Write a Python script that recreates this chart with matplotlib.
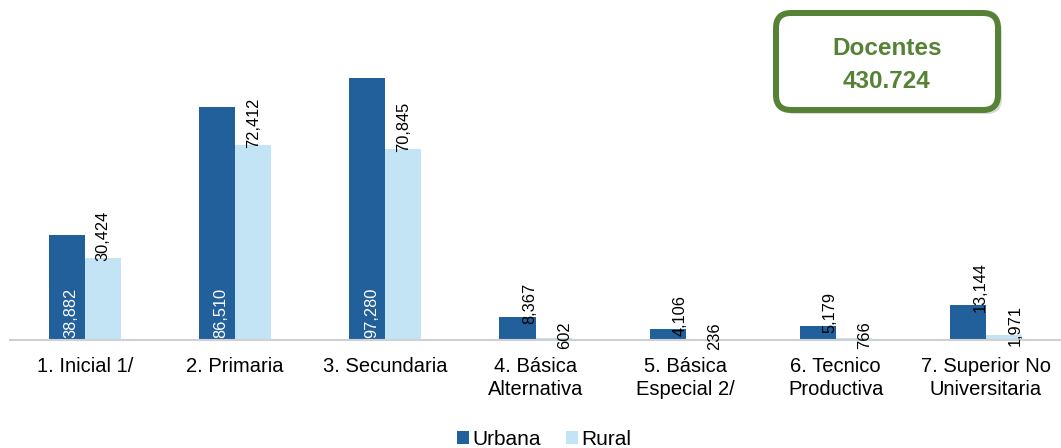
import matplotlib
matplotlib.use("Agg")
import matplotlib.pyplot as plt
import numpy as np
from matplotlib.patches import FancyBboxPatch

plt.rcParams['font.family'] = ['Liberation Sans', 'DejaVu Sans']

# data
categories = ['1. Inicial 1/', '2. Primaria', '3. Secundaria', '4. Básica\nAlternativa',
              '5. Básica\nEspecial 2/', '6. Tecnico\nProductiva', '7. Superior No\nUniversitaria']
urbana = [38882, 86510, 97280, 8367, 4106, 5179, 13144]
rural = [30424, 72412, 70845, 602, 236, 766, 1971]
total_label = '430.724'

c_urb = '#22609C'
c_rur = '#C2E4F5'
green = '#558235'

fig = plt.figure(figsize=(10.61, 4.48), dpi=100)
ax = fig.add_axes([10 / 1061, 108 / 448, 1051 / 1061, 320 / 448])

x = np.arange(len(categories))
w = 0.24
b1 = ax.bar(x - w / 2, urbana, w, color=c_urb, label='Urbana')
b2 = ax.bar(x + w / 2, rural, w, color=c_rur, label='Rural')

ax.set_xlim(-0.5, len(categories) - 0.5)
ax.set_ylim(0, 118800)
for s in ['top', 'right', 'left']:
    ax.spines[s].set_visible(False)
ax.spines['bottom'].set_color('#d0d0d0')
ax.spines['bottom'].set_linewidth(1.5)
ax.set_yticks([])
ax.set_xticks(x)
ax.set_xticklabels(categories, fontsize=14.5, linespacing=1.3)
ax.tick_params(axis='x', length=0, pad=12)

# value labels
fs = 11.8
for xi, v in zip(x - w / 2, urbana):
    txt = f'{v:,}'
    if v > 20000:
        ax.annotate(txt, (xi, 0), xytext=(4, 2), textcoords='offset pixels',
                    rotation=90, ha='center', va='bottom', color='white', fontsize=fs)
    else:
        ax.annotate(txt, (xi, v), xytext=(12, -7), textcoords='offset pixels',
                    rotation=90, ha='center', va='bottom', color='black', fontsize=fs)
for xi, v in zip(x + w / 2, rural):
    txt = f'{v:,}'
    dx = 0 if v > 20000 else 11
    dy = -3 if v > 20000 else -11
    ax.annotate(txt, (xi, v), xytext=(dx, dy), textcoords='offset pixels',
                rotation=90, ha='center', va='bottom', color='black', fontsize=fs)

fig.legend(loc='center', bbox_to_anchor=(544 / 1061, 9 / 448), ncol=2, frameon=False,
           fontsize=15, handlelength=0.6, handleheight=0.6, handletextpad=0.15,
           columnspacing=1.2, borderpad=0, borderaxespad=0)

# total box
tr = fig.dpi_scale_trans
shadow = FancyBboxPatch((7.80, 3.34), 2.22, 0.97, boxstyle='round,pad=0,rounding_size=0.15',
                        transform=tr, facecolor='#999999', edgecolor='none', alpha=0.35)
fig.patches.append(shadow)
box = FancyBboxPatch((7.76, 3.38), 2.22, 0.97, boxstyle='round,pad=0,rounding_size=0.15',
                     transform=tr, facecolor='white', edgecolor=green, linewidth=4.3)
fig.patches.append(box)
fig.text(8.87, 4.00, 'Docentes', transform=tr, ha='center', va='center',
         fontsize=17.5, fontweight='bold', color=green)
fig.text(8.87, 3.67, total_label, transform=tr, ha='center', va='center',
         fontsize=17.5, fontweight='bold', color=green)

fig.savefig('out.png', dpi=100)
